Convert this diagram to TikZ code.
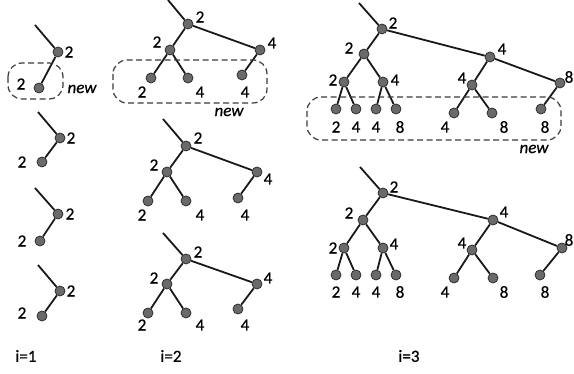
\documentclass[tikz,border=0pt]{standalone}
\usepackage{fontspec}
\setmainfont[FakeBold=0.6]{Carlito}
\definecolor{dotfill}{HTML}{6A6A6A}
\definecolor{dotline}{HTML}{2E2E2E}
\definecolor{boxline}{HTML}{3A3A3A}
\begin{document}
\begin{tikzpicture}[x=1pt,y=-1pt,
  dot/.style={circle,fill=dotfill,draw=dotline,line width=0.8pt,minimum size=10pt,inner sep=0pt},
  edge/.style={line width=1.8pt,draw=black!90},
  box/.style={draw=boxline,line width=1.2pt,dash pattern=on 6pt off 3.5pt,rounded corners=14pt},
  lbl/.style={font=\fontsize{17}{17}\selectfont,inner sep=0pt},
  newlbl/.style={font=\fontsize{17}{17}\selectfont\itshape,inner sep=0pt}]
\useasboundingbox (0,0) rectangle (574,374);

% ---------- i=1 ----------
% copy A
\coordinate (As) at (35,25);
\node[dot] (Ar) at (58,52) {};
\node[dot] (Ac) at (39,88) {};
\draw[edge] (As) -- (Ar);
\draw[edge] (Ar) -- (Ac);
\node[lbl] (Arl) at (69,52) {2};
\node[lbl] (Acl) at (21,84) {2};
\draw[box] (8,63) rectangle (63,99);
\node[newlbl] (Anew) at (82,89) {new};
% copy B
\coordinate (Bs) at (38,112);
\node[dot] (Br) at (60,138) {};
\node[dot] (Bc) at (42,162) {};
\draw[edge] (Bs) -- (Br);
\draw[edge] (Br) -- (Bc);
\node[lbl] (Brl) at (71,138) {2};
\node[lbl] (Bcl) at (22,162) {2};
% copy C
\coordinate (Cs) at (35,188);
\node[dot] (Cr) at (58,214) {};
\node[dot] (Cc) at (40,241) {};
\draw[edge] (Cs) -- (Cr);
\draw[edge] (Cr) -- (Cc);
\node[lbl] (Crl) at (70,214) {2};
\node[lbl] (Ccl) at (22,241) {2};
% copy D
\coordinate (Ds) at (38,265);
\node[dot] (Dr) at (60,291) {};
\node[dot] (Dc) at (42,316) {};
\draw[edge] (Ds) -- (Dr);
\draw[edge] (Dr) -- (Dc);
\node[lbl] (Drl) at (71,291) {2};
\node[lbl] (Dcl) at (22,313) {2};

% ---------- i=2 ----------
% top
\coordinate (Es) at (168,0);
\node[dot] (Er) at (188,24) {};
\node[dot] (EL) at (170,50) {};
\node[dot] (ER) at (260,50) {};
\node[dot] (E1) at (151,78) {};
\node[dot] (E2) at (188,78) {};
\node[dot] (E3) at (242,75) {};
\draw[edge] (Es) -- (Er);
\draw[edge] (Er) -- (EL);
\draw[edge] (Er) -- (ER);
\draw[edge] (EL) -- (E1);
\draw[edge] (EL) -- (E2);
\draw[edge] (ER) -- (E3);
\node[lbl] at (200,17) {2};
\node[lbl] at (157,42) {2};
\node[lbl] at (272,43) {4};
\node[lbl] at (142,92) {2};
\node[lbl] at (200,92) {4};
\node[lbl] at (245,92) {4};
\draw[box] (113,60) rectangle (267,103);
\node[newlbl] (Enew) at (229,112) {new};
% middle
\coordinate (Fs) at (163,119);
\node[dot] (Fr) at (186,146) {};
\node[dot] (FL) at (167,172) {};
\node[dot] (FR) at (257,172) {};
\node[dot] (F1) at (148,201) {};
\node[dot] (F2) at (186,201) {};
\node[dot] (F3) at (238,198) {};
\draw[edge] (Fs) -- (Fr);
\draw[edge] (Fr) -- (FL);
\draw[edge] (Fr) -- (FR);
\draw[edge] (FL) -- (F1);
\draw[edge] (FL) -- (F2);
\draw[edge] (FR) -- (F3);
\node[lbl] at (198,138) {2};
\node[lbl] at (154,165) {2};
\node[lbl] at (268,179) {4};
\node[lbl] at (142,215) {2};
\node[lbl] at (200,215) {4};
\node[lbl] at (245,215) {4};
% bottom
\coordinate (Gs) at (163,233);
\node[dot] (Gr) at (186,259) {};
\node[dot] (GL) at (167,284) {};
\node[dot] (GR) at (257,284) {};
\node[dot] (G1) at (148,313) {};
\node[dot] (G2) at (186,313) {};
\node[dot] (G3) at (238,309) {};
\draw[edge] (Gs) -- (Gr);
\draw[edge] (Gr) -- (GL);
\draw[edge] (Gr) -- (GR);
\draw[edge] (GL) -- (G1);
\draw[edge] (GL) -- (G2);
\draw[edge] (GR) -- (G3);
\node[lbl] at (198,252) {2};
\node[lbl] at (154,278) {2};
\node[lbl] at (268,278) {4};
\node[lbl] at (142,325) {2};
\node[lbl] at (200,325) {4};
\node[lbl] at (245,325) {4};

% ---------- i=3 ----------
% top
\coordinate (Hs) at (359,3);
\node[dot] (Hr) at (382,29) {};
\node[dot] (Ha) at (364,54) {};
\node[dot] (Hb) at (490,57) {};
\node[dot] (Haa) at (344,82) {};
\node[dot] (Hab) at (383,82) {};
\node[dot] (Hba) at (472,85) {};
\node[dot] (Hbb) at (560,83) {};
\node[dot] (H1) at (336,109) {};
\node[dot] (H2) at (356,109) {};
\node[dot] (H3) at (376,109) {};
\node[dot] (H4) at (396,109) {};
\node[dot] (H5) at (454,113) {};
\node[dot] (H6) at (492,113) {};
\node[dot] (H7) at (541,109) {};
\draw[edge] (Hs) -- (Hr);
\draw[edge] (Hr) -- (Ha);
\draw[edge] (Hr) -- (Hb);
\draw[edge] (Ha) -- (Haa);
\draw[edge] (Ha) -- (Hab);
\draw[edge] (Hb) -- (Hba);
\draw[edge] (Hb) -- (Hbb);
\draw[edge] (Haa) -- (H1);
\draw[edge] (Haa) -- (H2);
\draw[edge] (Hab) -- (H3);
\draw[edge] (Hab) -- (H4);
\draw[edge] (Hba) -- (H5);
\draw[edge] (Hba) -- (H6);
\draw[edge] (Hbb) -- (H7);
\node[lbl] at (393,23) {2};
\node[lbl] at (349,48) {2};
\node[lbl] at (502,49) {4};
\node[lbl] at (333,80) {2};
\node[lbl] at (395,80) {4};
\node[lbl] at (462,78) {4};
\node[lbl] at (569,77) {8};
\node[lbl] at (336,127) {2};
\node[lbl] at (356,127) {4};
\node[lbl] at (376,127) {4};
\node[lbl] at (400,127) {8};
\node[lbl] at (445,127) {4};
\node[lbl] at (504,127) {8};
\node[lbl] at (545,127) {8};
\draw[box] (307,97) rectangle (561,140);
\node[newlbl] (Hnew) at (534,149) {new};
% bottom
\coordinate (Ks) at (360,167);
\node[dot] (Kr) at (383,193) {};
\node[dot] (Ka) at (363,220) {};
\node[dot] (Kb) at (493,220) {};
\node[dot] (Kaa) at (344,248) {};
\node[dot] (Kab) at (383,248) {};
\node[dot] (Kba) at (472,250) {};
\node[dot] (Kbb) at (562,248) {};
\node[dot] (K1) at (336,275) {};
\node[dot] (K2) at (356,275) {};
\node[dot] (K3) at (376,275) {};
\node[dot] (K4) at (396,275) {};
\node[dot] (K5) at (454,278) {};
\node[dot] (K6) at (493,278) {};
\node[dot] (K7) at (540,275) {};
\draw[edge] (Ks) -- (Kr);
\draw[edge] (Kr) -- (Ka);
\draw[edge] (Kr) -- (Kb);
\draw[edge] (Ka) -- (Kaa);
\draw[edge] (Ka) -- (Kab);
\draw[edge] (Kb) -- (Kba);
\draw[edge] (Kb) -- (Kbb);
\draw[edge] (Kaa) -- (K1);
\draw[edge] (Kaa) -- (K2);
\draw[edge] (Kab) -- (K3);
\draw[edge] (Kab) -- (K4);
\draw[edge] (Kba) -- (K5);
\draw[edge] (Kba) -- (K6);
\draw[edge] (Kbb) -- (K7);
\node[lbl] at (394,187) {2};
\node[lbl] at (349,213) {2};
\node[lbl] at (504,212) {4};
\node[lbl] at (333,248) {2};
\node[lbl] at (394,244) {4};
\node[lbl] at (462,243) {4};
\node[lbl] at (569,240) {8};
\node[lbl] at (336,292) {2};
\node[lbl] at (356,292) {4};
\node[lbl] at (376,292) {4};
\node[lbl] at (400,292) {8};
\node[lbl] at (445,292) {4};
\node[lbl] at (504,292) {8};
\node[lbl] at (545,292) {8};

% ---------- captions ----------
\node[lbl] (c1) at (26,356) {i=1};
\node[lbl] (c2) at (171,356) {i=2};
\node[lbl] (c3) at (409,356) {i=3};
\end{tikzpicture}
\end{document}
